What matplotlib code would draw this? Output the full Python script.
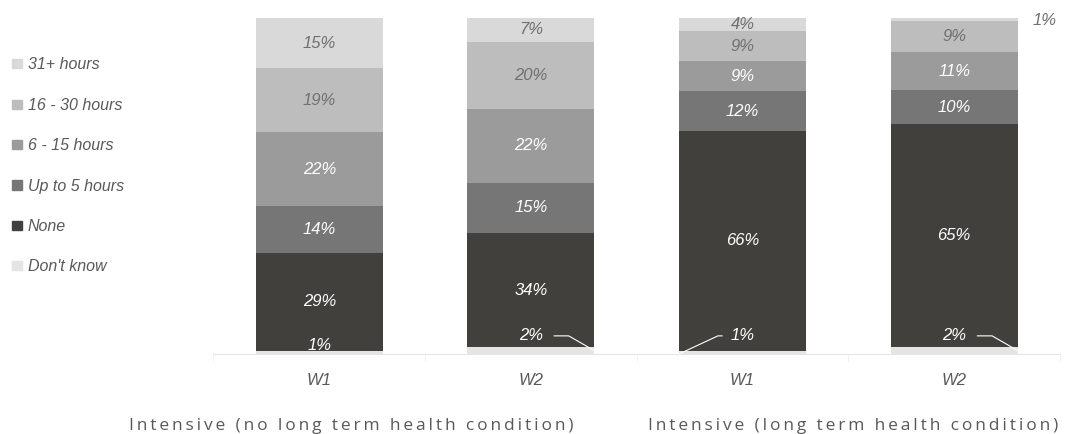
import numpy as np
import matplotlib.pyplot as plt
from matplotlib.patches import Patch

plt.rcParams['font.family'] = ['Liberation Sans', 'DejaVu Sans']

# data (percent)
bars = ["W1", "W2", "W1", "W2"]
groups = ["Intensive (no long term health condition)", "Intensive (long term health condition)"]
cats = ["Don't know", "None", "Up to 5 hours", "6 - 15 hours", "16 - 30 hours", "31+ hours"]
dont_know = [1, 2, 1, 2]
none = [29, 34, 66, 65]
upto5 = [14, 15, 12, 10]
h6_15 = [22, 22, 9, 11]
h16_30 = [19, 20, 9, 9]
h31 = [15, 7, 4, 1]

series = [dont_know, none, upto5, h6_15, h16_30, h31]
colors = ["#e4e4e4", "#42403d", "#767676", "#9b9b9b", "#bdbdbd", "#d9d9d9"]
txtcol = ["#595959", "white", "white", "white", "#707070", "#707070"]

vals = np.array(series, dtype=float)
tot = vals.sum(axis=0)
scaled = vals / tot * 100  # bars fill to 100%

fig = plt.figure(figsize=(10.67, 4.34), dpi=100)
ax = fig.add_axes([0.2, 0.1843, 0.7934, 0.7742])
x = np.arange(len(bars))
w = 0.6
fs = 12
bottom = np.zeros(len(bars))
for k in range(len(series)):
    ax.bar(x, scaled[k], w, bottom=bottom, color=colors[k], linewidth=0, zorder=2)
    for i in range(len(bars)):
        v = series[k][i]
        mid = bottom[i] + scaled[k][i] / 2
        if k == 0:
            if i == 0:
                ax.text(i, 2.6, "%d%%" % v, ha="center", va="center", color="white",
                        style="italic", fontsize=fs, zorder=4)
            elif i == 2:
                ax.annotate("%d%%" % v, xy=(i - w / 2, 0), xytext=(i, 5.4),
                            ha="center", va="center", color="white", style="italic", fontsize=fs,
                            arrowprops=dict(arrowstyle="-", color="white", lw=0.8,
                                            shrinkA=4, shrinkB=0,
                                            connectionstyle="angle,angleA=180,angleB=25,rad=0"),
                            zorder=4)
            else:
                ax.annotate("%d%%" % v, xy=(i + w / 2, scaled[k][i] / 2), xytext=(i, 5.4),
                            ha="center", va="center", color="white", style="italic", fontsize=fs,
                            arrowprops=dict(arrowstyle="-", color="white", lw=0.8,
                                            shrinkA=6, shrinkB=0,
                                            connectionstyle="angle,angleA=0,angleB=150,rad=0"),
                            zorder=4)
        elif v < 3:
            ax.text(i + w / 2 + 0.07, 99.4, "%d%%" % v, ha="left", va="center", color="#707070",
                    style="italic", fontsize=fs, zorder=4)
        else:
            ax.text(i, mid, "%d%%" % v, ha="center", va="center", color=txtcol[k],
                    style="italic", fontsize=fs, zorder=4)
    bottom += scaled[k]

ax.set_xlim(-0.5, 3.5)
ax.set_ylim(0, 100)
ax.set_yticks([])
for s in ["top", "right", "left"]:
    ax.spines[s].set_visible(False)
ax.spines["bottom"].set_color("#e6e6e6")
ax.spines["bottom"].set_zorder(1)
ax.set_xticks(x)
ax.set_xticklabels(bars, style="italic", fontsize=fs, color="#595959")
ax.tick_params(axis="x", length=0, pad=14)
ax.set_xticks(np.arange(-0.5, 4, 1), minor=True)
ax.tick_params(axis="x", which="minor", length=5, color="#eeeeee")

# group labels, letter-spaced
for g, gx in zip(groups, [0.329, 0.8]):
    spaced = "\u2006".join(g)
    fig.text(gx, 0.0, spaced, ha="center", va="bottom", fontsize=12.5, color="#595959",
             family=["Open Sans", "DejaVu Sans"])

handles = [Patch(color=colors[k]) for k in range(len(cats))][::-1]
leg = fig.legend(handles, cats[::-1], loc="upper left", bbox_to_anchor=(-0.001, 0.897),
                 frameon=False, borderpad=0.3, handlelength=0.65, handleheight=0.5,
                 handletextpad=0.35, labelspacing=1.59, prop={"style": "italic", "size": 11.5})
for t in leg.get_texts():
    t.set_color("#595959")

plt.savefig("out.png", dpi=100)
